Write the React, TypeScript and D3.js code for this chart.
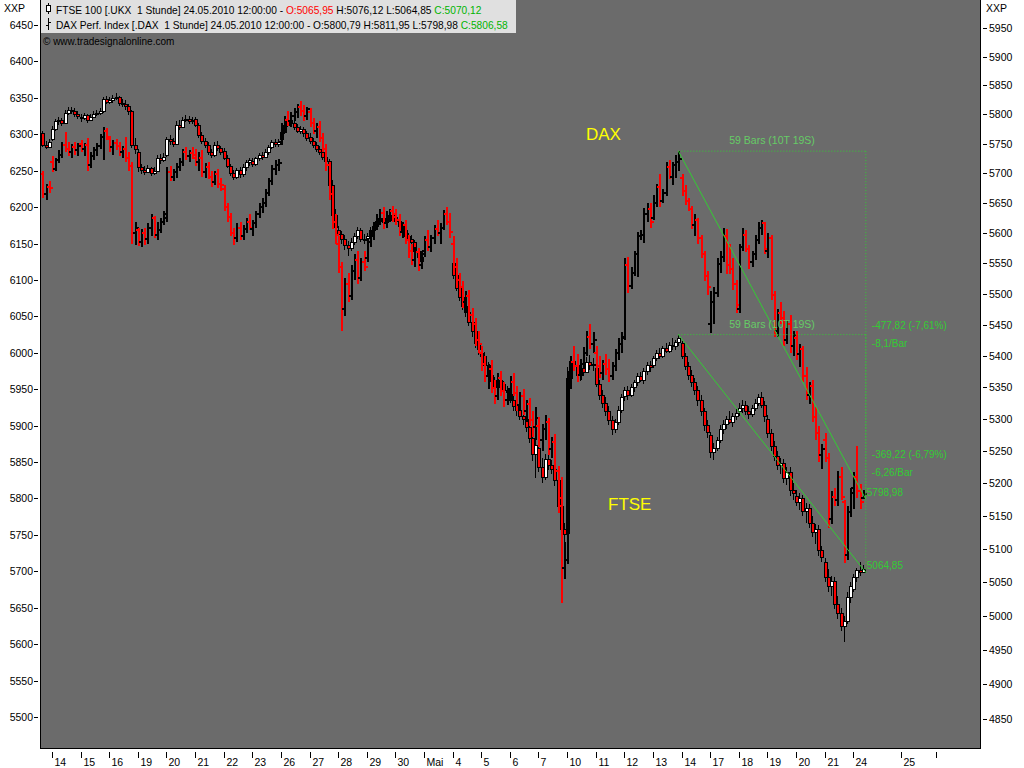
import React from "react";
import * as d3 from "d3";

const W = 1024;
const H = 768;
const FONT = "'Liberation Sans', Arial, sans-serif";

// ---------- axis data ----------
const dayLabels = ["14","15","16","19","20","21","22","23","26","27","28","29","30","Mai","4","5","6","7","10","11","12","13","14","17","18","19","20","21","24","25",""];
const daySlots = [3,12,21,30,39,48,57,66,75,84,93,102,111,120,129,138,147,156,165,174,183,192,201,210,219,228,237,246,255,270,281];
const daxTicks = [5500,5550,5600,5650,5700,5750,5800,5850,5900,5950,6000,6050,6100,6150,6200,6250,6300,6350,6400,6450];
const ftseTicks = [4850,4900,4950,5000,5050,5100,5150,5200,5250,5300,5350,5400,5450,5500,5550,5600,5650,5700,5750,5800,5850,5900,5950];

// ---------- legend data ----------
const ftseLegend = ["FTSE 100 [.UKX  1 Stunde] 24.05.2010 12:00:00 - ", "O:5065,95", " H:5076,12 L:5064,85 ", "C:5070,12"];
const daxLegend = ["DAX Perf. Index [.DAX  1 Stunde] 24.05.2010 12:00:00 - O:5800,79 H:5811,95 L:5798,98 ", "C:5806,58"];

// ---------- FTSE 100 hourly candles [open, high, low, close] (null = no trading) ----------
const ftse: (number[] | null)[] = [
  // Apr 13
  [5768,5772,5744,5748],[5748,5755,5740,5745],[5745,5758,5742,5752],
  // Apr 14
  [5758,5780,5755,5775],[5775,5792,5772,5788],[5788,5795,5782,5790],[5790,5794,5780,5785],[5785,5808,5783,5803],[5803,5812,5798,5808],[5808,5813,5800,5806],[5806,5810,5795,5800],[5800,5806,5792,5797],
  // Apr 15
  [5795,5800,5786,5793],[5793,5803,5790,5798],[5798,5801,5785,5790],[5790,5800,5788,5796],[5796,5805,5793,5800],[5800,5808,5797,5803],[5803,5810,5798,5805],[5805,5830,5803,5826],[5826,5832,5818,5822],
  // Apr 16
  [5822,5830,5817,5825],[5825,5834,5820,5828],[5828,5836,5824,5830],[5830,5832,5815,5820],[5820,5826,5812,5818],[5818,5824,5808,5815],[5815,5818,5798,5805],[5805,5808,5742,5748],[5748,5760,5732,5740],
  // Apr 19
  [5735,5740,5702,5710],[5710,5716,5698,5705],[5705,5712,5696,5702],[5702,5714,5700,5708],[5708,5710,5695,5700],[5700,5710,5697,5704],[5704,5730,5702,5725],[5725,5732,5716,5722],[5722,5734,5718,5728],
  // Apr 20
  [5730,5762,5728,5758],[5758,5764,5748,5755],[5755,5760,5744,5750],[5750,5788,5748,5782],[5782,5790,5774,5778],[5778,5795,5776,5790],[5790,5798,5786,5792],[5792,5797,5783,5788],[5788,5796,5784,5790],
  // Apr 21
  [5792,5796,5778,5782],[5782,5785,5760,5765],[5765,5770,5750,5755],[5755,5760,5742,5748],[5748,5752,5730,5735],[5735,5740,5726,5730],[5730,5752,5728,5748],[5748,5754,5738,5742],[5742,5746,5730,5735],
  // Apr 22
  [5738,5742,5722,5725],[5725,5730,5708,5712],[5712,5716,5695,5700],[5700,5706,5688,5694],[5694,5708,5690,5705],[5705,5710,5692,5698],[5698,5715,5694,5710],[5710,5722,5704,5718],[5718,5726,5712,5722],
  // Apr 23
  [5720,5726,5710,5715],[5715,5728,5712,5725],[5725,5734,5720,5730],[5730,5735,5722,5728],[5728,5740,5725,5735],[5735,5748,5730,5745],[5745,5756,5740,5752],[5752,5758,5744,5750],[5750,5757,5745,5753],
  // Apr 26
  [5758,5775,5755,5770],[5770,5786,5766,5782],[5782,5796,5778,5790],[5790,5795,5780,5785],[5785,5790,5774,5778],[5778,5784,5768,5772],[5772,5780,5766,5775],[5775,5778,5762,5768],[5768,5772,5755,5760],
  // Apr 27
  [5762,5768,5750,5755],[5755,5760,5742,5748],[5748,5752,5735,5740],[5740,5746,5730,5735],[5735,5740,5722,5728],[5728,5734,5715,5720],[5720,5724,5672,5680],[5680,5688,5622,5630],[5630,5640,5598,5610],
  // Apr 28
  [5605,5612,5585,5598],[5598,5604,5582,5590],[5590,5596,5572,5580],[5580,5586,5562,5575],[5575,5592,5570,5585],[5585,5600,5580,5595],[5595,5610,5590,5605],[5605,5608,5585,5590],[5590,5598,5582,5588],
  // Apr 29
  [5592,5600,5585,5595],[5595,5610,5590,5605],[5605,5616,5600,5612],[5612,5624,5608,5620],[5620,5630,5615,5625],[5625,5628,5612,5618],[5618,5627,5614,5622],[5622,5636,5618,5630],[5630,5634,5620,5625],
  // Apr 30
  [5626,5630,5614,5620],[5620,5625,5606,5612],[5612,5618,5600,5605],[5605,5610,5590,5595],[5595,5600,5584,5590],[5590,5596,5578,5585],[5585,5588,5565,5570],[5570,5575,5552,5560],[5560,5566,5546,5553],
  // May 3 (London closed)
  null,null,null,null,null,null,null,null,null,
  // May 4
  [5550,5555,5524,5530],[5530,5536,5504,5510],[5510,5516,5488,5495],[5495,5500,5474,5480],[5480,5490,5462,5470],[5470,5476,5448,5455],[5455,5460,5430,5440],[5440,5446,5412,5420],[5420,5428,5402,5411],
  // May 5
  [5405,5412,5390,5400],[5400,5406,5378,5385],[5385,5390,5362,5370],[5370,5376,5352,5360],[5360,5366,5340,5350],[5350,5370,5345,5362],[5362,5368,5348,5355],[5355,5360,5338,5345],[5345,5352,5335,5342],
  // May 6
  [5340,5350,5325,5330],[5330,5338,5312,5320],[5320,5328,5305,5315],[5315,5322,5298,5305],[5305,5312,5290,5300],[5300,5306,5280,5288],[5288,5295,5262,5270],[5270,5278,5235,5245],[5245,5268,5208,5260],
  // May 7
  [5255,5262,5218,5225],[5225,5240,5200,5210],[5210,5245,5205,5238],[5238,5250,5220,5228],[5228,5236,5215,5222],[5222,5230,5196,5205],[5205,5210,5158,5165],[5165,5172,5120,5130],[5130,5140,5055,5123],
  // May 10
  [5125,5382,5120,5365],[5365,5400,5358,5392],[5392,5410,5380,5385],[5385,5395,5362,5370],[5370,5388,5360,5380],[5380,5392,5368,5375],[5375,5398,5372,5390],[5390,5402,5378,5385],[5385,5396,5376,5387],
  // May 11
  [5380,5384,5350,5356],[5356,5362,5330,5338],[5338,5345,5318,5325],[5325,5334,5305,5312],[5312,5320,5290,5298],[5298,5305,5275,5285],[5285,5300,5278,5295],[5295,5320,5290,5315],[5315,5340,5310,5334],
  // May 12
  [5336,5350,5328,5345],[5345,5352,5330,5338],[5338,5356,5334,5350],[5350,5362,5342,5358],[5358,5372,5352,5368],[5368,5375,5358,5362],[5362,5380,5356,5376],[5376,5390,5370,5385],[5385,5392,5374,5383],
  // May 13
  [5386,5400,5380,5396],[5396,5410,5392,5405],[5405,5412,5395,5400],[5400,5416,5397,5412],[5412,5420,5405,5408],[5408,5422,5404,5418],[5418,5428,5410,5415],[5415,5426,5410,5422],[5422,5434.07,5416,5428],
  // May 14
  [5420,5424,5395,5400],[5400,5405,5378,5384],[5384,5390,5362,5370],[5370,5378,5350,5358],[5358,5364,5338,5345],[5345,5352,5320,5330],[5330,5338,5305,5312],[5312,5318,5282,5290],[5290,5298,5270,5280],
  // May 17
  [5275,5280,5240,5248],[5248,5262,5236,5255],[5255,5272,5250,5268],[5268,5290,5262,5285],[5285,5298,5276,5292],[5292,5305,5285,5300],[5300,5312,5292,5296],[5296,5310,5288,5305],[5305,5316,5298,5310],
  // May 18
  [5312,5325,5305,5318],[5318,5330,5310,5322],[5322,5328,5306,5312],[5312,5320,5300,5308],[5308,5322,5304,5318],[5318,5332,5312,5326],[5326,5340,5320,5335],[5335,5342,5318,5322],[5322,5328,5295,5305],
  // May 19
  [5300,5306,5270,5278],[5278,5284,5250,5258],[5258,5266,5235,5242],[5242,5250,5220,5228],[5228,5240,5215,5232],[5232,5238,5200,5208],[5208,5225,5198,5218],[5218,5226,5180,5190],[5190,5200,5175,5185],
  // May 20
  [5180,5190,5165,5172],[5172,5185,5160,5178],[5178,5182,5150,5158],[5158,5170,5140,5162],[5162,5168,5132,5140],[5140,5150,5118,5126],[5126,5138,5108,5130],[5130,5136,5090,5098],[5098,5105,5080,5088],
  // May 21
  [5080,5086,5050,5058],[5058,5070,5035,5045],[5045,5060,5030,5052],[5052,5058,5010,5018],[5018,5030,4995,5005],[5005,5012,4978,4985],[4985,5000,4962,4992],[4992,5035,4988,5028],[5028,5050,5020,5045],
  // May 24
  [5040,5062,5035,5058],[5058,5072,5050,5068],[5068,5080,5060,5065],[5065.95,5076.12,5064.85,5070.12],
];

// ---------- DAX hourly OHLC bars [open, high, low, close] ----------
const dax: number[][] = [
  // Apr 13
  [6245,6250,6212,6218],[6218,6232,6210,6228],[6228,6236,6220,6226],
  // Apr 14
  [6262,6270,6248,6252],[6252,6268,6250,6265],[6265,6278,6260,6272],[6272,6290,6268,6285],[6285,6303,6276,6280],[6280,6290,6270,6276],[6276,6286,6268,6282],[6282,6290,6272,6278],[6278,6288,6270,6284],
  // Apr 15
  [6286,6292,6276,6280],[6280,6288,6270,6285],[6285,6295,6250,6258],[6258,6275,6254,6270],[6270,6282,6265,6278],[6278,6288,6270,6284],[6284,6300,6280,6296],[6296,6310,6265,6305],[6305,6308,6292,6296],
  // Apr 16
  [6294,6298,6276,6282],[6282,6292,6272,6288],[6288,6294,6278,6284],[6284,6290,6270,6275],[6275,6284,6268,6280],[6280,6296,6262,6268],[6268,6275,6250,6256],[6256,6262,6150,6165],[6165,6180,6148,6172],
  // Apr 19
  [6168,6172,6146,6152],[6152,6170,6145,6165],[6165,6172,6148,6156],[6156,6178,6150,6172],[6172,6190,6160,6185],[6185,6188,6158,6162],[6162,6180,6155,6168],[6168,6185,6164,6180],[6180,6195,6175,6190],
  // Apr 20
  [6185,6255,6180,6248],[6248,6256,6236,6242],[6242,6252,6236,6248],[6248,6260,6240,6255],[6255,6268,6250,6262],[6262,6280,6256,6275],[6275,6282,6265,6270],[6270,6278,6262,6274],[6274,6282,6266,6268],
  // Apr 21
  [6272,6280,6256,6262],[6262,6275,6250,6268],[6268,6278,6242,6248],[6248,6260,6240,6255],[6255,6262,6238,6242],[6242,6250,6228,6235],[6235,6250,6230,6246],[6246,6252,6226,6232],[6232,6240,6222,6230],
  // Apr 22
  [6225,6230,6195,6200],[6200,6206,6180,6186],[6186,6192,6160,6165],[6165,6172,6148,6158],[6158,6178,6152,6172],[6172,6180,6155,6160],[6160,6176,6155,6170],[6170,6185,6165,6180],[6180,6190,6168,6172],
  // Apr 23
  [6170,6182,6160,6178],[6178,6195,6172,6190],[6190,6205,6185,6200],[6200,6212,6192,6206],[6206,6225,6200,6220],[6220,6240,6215,6236],[6236,6258,6230,6252],[6252,6265,6244,6258],[6258,6266,6250,6260],
  // Apr 26
  [6290,6315,6285,6310],[6310,6325,6302,6320],[6320,6332,6312,6318],[6318,6330,6310,6325],[6325,6336,6318,6330],[6330,6342,6322,6338],[6338,6346,6325,6332],[6332,6340,6318,6325],[6325,6338,6320,6334],
  // Apr 27
  [6330,6336,6310,6315],[6315,6322,6300,6305],[6305,6316,6295,6310],[6310,6318,6290,6295],[6295,6302,6275,6280],[6280,6286,6250,6258],[6258,6262,6210,6218],[6218,6225,6170,6180],[6180,6190,6150,6162],
  // Apr 28
  [6150,6160,6110,6118],[6118,6125,6030,6060],[6060,6102,6050,6095],[6095,6110,6070,6078],[6078,6120,6072,6112],[6112,6135,6100,6128],[6128,6140,6095,6102],[6102,6130,6098,6125],[6125,6140,6112,6118],
  // Apr 29
  [6130,6158,6125,6152],[6152,6168,6145,6160],[6160,6180,6155,6175],[6175,6190,6168,6182],[6182,6198,6176,6192],[6192,6200,6170,6178],[6178,6195,6172,6188],[6188,6198,6180,6194],[6194,6202,6180,6186],
  // Apr 30
  [6190,6198,6176,6182],[6182,6190,6160,6166],[6166,6180,6158,6175],[6175,6182,6150,6155],[6155,6162,6130,6140],[6140,6150,6120,6128],[6128,6145,6118,6138],[6138,6144,6112,6120],[6120,6140,6115,6135],
  // May 3
  [6140,6160,6132,6155],[6155,6168,6140,6145],[6145,6162,6138,6158],[6158,6175,6150,6170],[6170,6182,6160,6165],[6165,6178,6150,6172],[6172,6196,6168,6190],[6190,6200,6175,6180],[6180,6192,6158,6166],
  // May 4
  [6150,6160,6110,6118],[6118,6130,6092,6100],[6100,6110,6080,6090],[6090,6098,6062,6070],[6070,6085,6055,6078],[6078,6086,6045,6052],[6052,6062,6030,6040],[6040,6048,6010,6018],[6018,6030,6000,6012],
  // May 5
  [6000,6010,5975,5985],[5985,5995,5960,5968],[5968,5985,5950,5978],[5978,5990,5945,5952],[5952,5962,5930,5940],[5940,5972,5935,5965],[5965,5975,5940,5948],[5948,5960,5925,5935],[5935,5950,5928,5945],
  // May 6
  [5950,5968,5935,5960],[5960,5972,5940,5945],[5945,5955,5920,5928],[5928,5946,5922,5940],[5940,5950,5915,5920],[5920,5935,5905,5930],[5930,5938,5900,5908],[5908,5920,5885,5898],[5898,5925,5880,5910],
  // May 7
  [5900,5912,5870,5880],[5880,5902,5865,5895],[5895,5915,5880,5905],[5905,5910,5860,5868],[5868,5885,5855,5878],[5878,5888,5830,5838],[5838,5845,5780,5790],[5800,5830,5657,5705],[5705,5740,5690,5716],
  // May 10
  [5716,5975,5710,5960],[5960,5995,5950,5988],[5988,6010,5975,5982],[5982,5998,5960,5970],[5970,5992,5962,5985],[5985,6008,5978,6000],[6000,6030,5995,6022],[6022,6040,6005,6012],[6012,6028,6000,6018],
  // May 11
  [6000,6010,5975,5982],[5982,5995,5965,5972],[5972,5990,5962,5985],[5985,5998,5970,5978],[5978,5992,5960,5968],[5968,5988,5962,5982],[5982,6005,5975,6000],[6000,6020,5990,6012],[6012,6028,6000,6020],
  // May 12
  [6022,6130,6018,6120],[6120,6131,6082,6092],[6092,6118,6088,6110],[6110,6140,6105,6135],[6135,6166,6104,6160],[6160,6168,6155,6162],[6162,6199,6151,6190],[6190,6205,6180,6198],[6198,6205,6171,6180],
  // May 13
  [6185,6216,6182,6205],[6205,6232,6200,6228],[6228,6246,6200,6208],[6208,6225,6205,6220],[6220,6262,6215,6255],[6255,6265,6238,6242],[6242,6262,6230,6258],[6258,6272,6240,6262],[6262,6276.8,6250,6266],
  // May 14
  [6240,6245,6215,6222],[6222,6230,6203,6208],[6208,6212,6195,6198],[6198,6202,6170,6176],[6176,6190,6160,6182],[6182,6185,6150,6158],[6158,6162,6130,6135],[6135,6140,6098,6105],[6105,6112,6080,6090],
  // May 17
  [6040,6085,6027,6070],[6070,6090,6040,6082],[6082,6130,6076,6122],[6122,6140,6110,6132],[6132,6172,6125,6160],[6160,6170,6108,6120],[6120,6150,6108,6115],[6115,6130,6086,6095],[6095,6100,6055,6065],
  // May 18
  [6060,6150,6055,6145],[6145,6171,6140,6162],[6162,6168,6138,6142],[6142,6148,6115,6125],[6125,6140,6118,6135],[6135,6162,6128,6155],[6155,6180,6150,6172],[6172,6182,6162,6178],[6178,6180,6135,6142],
  // May 19
  [6140,6165,6130,6158],[6158,6162,6072,6080],[6080,6085,6021,6030],[6030,6060,6022,6055],[6055,6070,6040,6048],[6048,6058,6010,6018],[6018,6045,6012,6040],[6040,6052,6000,6010],[6010,6030,5995,6025],
  // May 20
  [6020,6030,5990,5998],[5998,6012,5980,6005],[6005,6010,5960,5968],[5968,5980,5935,5942],[5942,5960,5930,5955],[5955,5962,5905,5912],[5912,5925,5880,5890],[5890,5900,5850,5860],[5860,5875,5840,5868],
  // May 21
  [5880,5890,5850,5856],[5856,5862,5760,5772],[5772,5810,5765,5802],[5802,5815,5790,5798],[5798,5838,5790,5830],[5830,5843,5798,5802],[5795,5798,5711,5722],[5722,5790,5715,5782],[5782,5815,5775,5808],
  // May 24
  [5815,5836,5786,5830],[5830,5872,5800,5810],[5810,5820,5786,5795],[5800.79,5811.95,5798.98,5806.58],
];

// measurement from the May 13 17:00 bar to the last bar
const measureFrom = 200;

const fmtNum = (v: number) => d3.format(".2f")(v).replace("−", "-").replace(".", ",");
const fmtTrim = (v: number) => fmtNum(v).replace(/,?0+$/, "");

export default function App() {
  const left = 40, right = 980, top = 0, bottom = 748;
  const nLast = dax.length - 1;
  const x = d3.scaleLinear().domain([0, nLast]).range([42.4, 862.8]);
  const yD = d3.scaleLinear().domain([5500, 6450]).range([717, 25]);
  const yF = d3.scaleLog().domain([4850, 5950]).range([719, 28]);

  const xEnd = x(nLast) + 3;
  const xStart = x(measureFrom);
  const nBars = nLast - measureFrom + 1;

  const daxPeak = dax[measureFrom][1];
  const daxLow = dax[nLast][2];
  const ftsePeak = (ftse[measureFrom] as number[])[1];
  const ftseLow = (ftse[nLast] as number[])[2];

  const GREEN = "#33cc33";

  const measure = (peak: number, low: number, y: (v: number) => number, key: string) => {
    const y1 = y(peak), y2 = y(low);
    const diff = low - peak;
    const mid = (y1 + y2) / 2;
    return (
      <g key={key} fontFamily={FONT} fontSize={10} fill={GREEN}>
        <line x1={xStart} y1={y1} x2={xEnd} y2={y1} stroke={GREEN} strokeDasharray="1,2" />
        <line x1={xEnd} y1={y1} x2={xEnd} y2={y2} stroke={GREEN} strokeDasharray="1,2" />
        <line x1={xStart} y1={y1} x2={xEnd} y2={y2} stroke={GREEN} strokeWidth={1} />
        <text x={(xStart + xEnd) / 2} y={y1 - 7} textAnchor="middle" fontSize={10.5} fill="#66cc66">{`${nBars} Bars (10T 19S)`}</text>
        <text x={xEnd + 6} y={mid + 4}>{`${fmtNum(diff)} (${fmtNum((diff / peak) * 100)}%)`}</text>
        <text x={xEnd + 6} y={mid + 22}>{`${fmtTrim(diff / nBars)}/Bar`}</text>
        <text x={xEnd + 1} y={y2 - 3}>{fmtNum(low)}</text>
      </g>
    );
  };

  return (
    <svg width={W} height={H} style={{ position: "absolute", left: 0, top: 0, background: "#fff" }}>
      <rect x={0} y={0} width={W} height={H} fill="#ffffff" />
      <rect x={left} y={top} width={right - left} height={bottom - top} fill="#6b6b6b" />

      {/* FTSE candles */}
      <g shapeRendering="crispEdges">
        {ftse.map((b, i) => {
          if (!b) return null;
          const [o, h, l, c] = b;
          const cx = Math.round(x(i)) + 0.5;
          const yt = Math.round(yF(Math.max(o, c))) + 0.5;
          const yb = Math.round(yF(Math.min(o, c))) + 0.5;
          const up = c >= o;
          return (
            <g key={"f" + i}>
              <line x1={cx} x2={cx} y1={yF(h)} y2={yF(l)} stroke="#000" strokeWidth={1} />
              <rect x={cx - 1} y={yt} width={3} height={Math.max(yb - yt, 1)} fill={up ? "#ffffff" : "#ff0000"} stroke="#000" strokeWidth={1} />
            </g>
          );
        })}
      </g>

      {/* DAX bars */}
      <g shapeRendering="crispEdges">
        {dax.map((b, i) => {
          const [o, h, l, c] = b;
          const cx = Math.round(x(i)) + 1;
          const col = c >= o ? "#000000" : "#ff0000";
          const yo = Math.round(yD(o));
          const yc = Math.round(yD(c));
          return (
            <g key={"d" + i} stroke={col}>
              <line x1={cx} x2={cx} y1={yD(h)} y2={yD(l)} strokeWidth={2} />
              <line x1={cx - 3} x2={cx} y1={yo} y2={yo} strokeWidth={2} />
              <line x1={cx} x2={cx + 3} y1={yc} y2={yc} strokeWidth={2} />
            </g>
          );
        })}
      </g>

      {/* measurements */}
      {measure(daxPeak, daxLow, yD, "md")}
      {measure(ftsePeak, ftseLow, (v) => yF(v), "mf")}

      {/* series names */}
      <text x={586} y={140} fontFamily={FONT} fontSize={17} fill="#ffff00">DAX</text>
      <text x={608} y={510} fontFamily={FONT} fontSize={17} fill="#ffff00">FTSE</text>

      {/* frame */}
      <g stroke="#000" strokeWidth={1} shapeRendering="crispEdges">
        <line x1={left + 0.5} x2={left + 0.5} y1={0} y2={bottom} />
        <line x1={right + 0.5} x2={right + 0.5} y1={0} y2={bottom} />
        <line x1={left} x2={right + 1} y1={bottom + 0.5} y2={bottom + 0.5} />
      </g>

      {/* left axis (DAX) */}
      <g fontFamily={FONT} fontSize={10.5} fill="#000">
        {daxTicks.map((t) => (
          <g key={"l" + t}>
            <line x1={34} x2={38} y1={Math.round(yD(t)) + 0.5} y2={Math.round(yD(t)) + 0.5} stroke="#000" shapeRendering="crispEdges" />
            <text x={33} y={yD(t) + 4} textAnchor="end">{t}</text>
          </g>
        ))}
        <text x={4} y={12}>XXP</text>
      </g>

      {/* right axis (FTSE) */}
      <g fontFamily={FONT} fontSize={10.5} fill="#000">
        {ftseTicks.map((t) => (
          <g key={"r" + t}>
            <line x1={983} x2={987} y1={Math.round(yF(t)) + 0.5} y2={Math.round(yF(t)) + 0.5} stroke="#000" shapeRendering="crispEdges" />
            <text x={989} y={yF(t) + 4}>{t}</text>
          </g>
        ))}
        <text x={986} y={12}>XXP</text>
      </g>

      {/* x axis */}
      <g fontFamily={FONT} fontSize={10.5} fill="#000">
        {daySlots.map((s, i) => {
          const tx = Math.round(x(s)) + 0.5;
          return (
            <g key={"x" + i}>
              <line x1={tx} x2={tx} y1={752} y2={758} stroke="#000" shapeRendering="crispEdges" />
              <text x={tx + 2} y={766}>{dayLabels[i]}</text>
            </g>
          );
        })}
      </g>

      {/* legend */}
      <rect x={left + 1} y={0} width={475} height={33} fill="#e0e0e0" />
      <g shapeRendering="crispEdges" stroke="#000">
        <line x1={48.5} x2={48.5} y1={3} y2={14} />
        <rect x={46.5} y={5.5} width={4} height={6} fill="#ffffff" />
        <line x1={48.5} x2={48.5} y1={18} y2={30} />
        <line x1={46} x2={48} y1={25.5} y2={25.5} />
        <line x1={49} x2={51} y1={22.5} y2={22.5} />
      </g>
      <text x={56} y={14} fontFamily={FONT} fontSize={10.2} fill="#000" style={{ whiteSpace: "pre" }}>
        <tspan>{ftseLegend[0]}</tspan>
        <tspan fill="#ff0000">{ftseLegend[1]}</tspan>
        <tspan>{ftseLegend[2]}</tspan>
        <tspan fill="#00b400">{ftseLegend[3]}</tspan>
      </text>
      <text x={56} y={29} fontFamily={FONT} fontSize={10.2} fill="#000" style={{ whiteSpace: "pre" }}>
        <tspan>{daxLegend[0]}</tspan>
        <tspan fill="#00b400">{daxLegend[1]}</tspan>
      </text>
      <text x={43} y={45} fontFamily={FONT} fontSize={10} fill="#000">© www.tradesignalonline.com</text>
    </svg>
  );
}
